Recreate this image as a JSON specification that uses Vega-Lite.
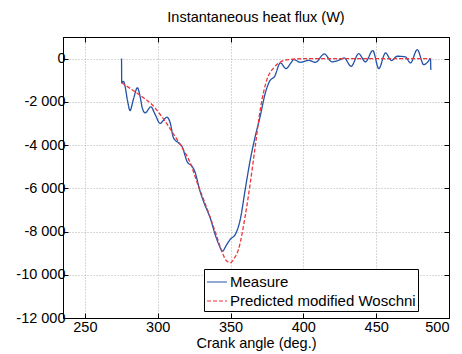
{
  "$schema": "https://vega.github.io/schema/vega-lite/v6.json",
  "width": 386,
  "height": 281,
  "autosize": "none",
  "padding": {"left": 63, "top": 37, "right": 13, "bottom": 36},
  "background": "white",
  "config": {
    "font": "Liberation Sans",
    "view": {"stroke": "black", "strokeWidth": 1},
    "axis": {"labelFont": "Liberation Sans", "titleFont": "Liberation Sans"}
  },
  "title": {"text": "Instantaneous heat flux (W)", "fontSize": 14.5, "fontWeight": "normal", "color": "black", "offset": 11},
  "datasets": {
    "d": [
      {"angle": 275.2, "flux": 0, "series": "Measure"},
      {"angle": 275.3, "flux": -1120, "series": "Measure"},
      {"angle": 276.5, "flux": -1050, "series": "Measure"},
      {"angle": 277.6, "flux": -1280, "series": "Measure"},
      {"angle": 279.3, "flux": -1950, "series": "Measure"},
      {"angle": 281, "flux": -2400, "series": "Measure"},
      {"angle": 283.3, "flux": -1890, "series": "Measure"},
      {"angle": 286.1, "flux": -1350, "series": "Measure"},
      {"angle": 287.9, "flux": -1740, "series": "Measure"},
      {"angle": 289.5, "flux": -2300, "series": "Measure"},
      {"angle": 291.4, "flux": -2510, "series": "Measure"},
      {"angle": 295.3, "flux": -2230, "series": "Measure"},
      {"angle": 298.3, "flux": -2590, "series": "Measure"},
      {"angle": 301.7, "flux": -3000, "series": "Measure"},
      {"angle": 304, "flux": -2850, "series": "Measure"},
      {"angle": 306.3, "flux": -2710, "series": "Measure"},
      {"angle": 308.6, "flux": -2970, "series": "Measure"},
      {"angle": 310.8, "flux": -3660, "series": "Measure"},
      {"angle": 314.3, "flux": -3900, "series": "Measure"},
      {"angle": 316.6, "flux": -4050, "series": "Measure"},
      {"angle": 320.4, "flux": -4790, "series": "Measure"},
      {"angle": 323.5, "flux": -4970, "series": "Measure"},
      {"angle": 325.8, "flux": -5280, "series": "Measure"},
      {"angle": 328.7, "flux": -6050, "series": "Measure"},
      {"angle": 332, "flux": -6700, "series": "Measure"},
      {"angle": 336.1, "flux": -7380, "series": "Measure"},
      {"angle": 339.5, "flux": -8150, "series": "Measure"},
      {"angle": 342, "flux": -8600, "series": "Measure"},
      {"angle": 344.5, "flux": -8900, "series": "Measure"},
      {"angle": 347, "flux": -8650, "series": "Measure"},
      {"angle": 349.8, "flux": -8360, "series": "Measure"},
      {"angle": 353.3, "flux": -8130, "series": "Measure"},
      {"angle": 356.7, "flux": -7440, "series": "Measure"},
      {"angle": 360.1, "flux": -6050, "series": "Measure"},
      {"angle": 363.6, "flux": -4670, "series": "Measure"},
      {"angle": 367, "flux": -3590, "series": "Measure"},
      {"angle": 370.4, "flux": -2660, "series": "Measure"},
      {"angle": 373.9, "flux": -1590, "series": "Measure"},
      {"angle": 376.8, "flux": -1050, "series": "Measure"},
      {"angle": 380.3, "flux": -820, "series": "Measure"},
      {"angle": 384.2, "flux": -200, "series": "Measure"},
      {"angle": 388.1, "flux": -460, "series": "Measure"},
      {"angle": 391.5, "flux": -200, "series": "Measure"},
      {"angle": 393.4, "flux": -46, "series": "Measure"},
      {"angle": 398, "flux": -170, "series": "Measure"},
      {"angle": 403.7, "flux": -80, "series": "Measure"},
      {"angle": 408.3, "flux": -170, "series": "Measure"},
      {"angle": 414.4, "flux": 215, "series": "Measure"},
      {"angle": 419.7, "flux": -150, "series": "Measure"},
      {"angle": 425.4, "flux": -46, "series": "Measure"},
      {"angle": 428, "flux": 30, "series": "Measure"},
      {"angle": 432.8, "flux": -355, "series": "Measure"},
      {"angle": 438, "flux": 230, "series": "Measure"},
      {"angle": 442.6, "flux": -150, "series": "Measure"},
      {"angle": 447.7, "flux": 370, "series": "Measure"},
      {"angle": 451.8, "flux": -460, "series": "Measure"},
      {"angle": 456.4, "flux": 260, "series": "Measure"},
      {"angle": 460.5, "flux": -90, "series": "Measure"},
      {"angle": 464.4, "flux": 110, "series": "Measure"},
      {"angle": 470.1, "flux": 80, "series": "Measure"},
      {"angle": 473.6, "flux": -200, "series": "Measure"},
      {"angle": 478.2, "flux": 415, "series": "Measure"},
      {"angle": 482.7, "flux": -280, "series": "Measure"},
      {"angle": 485.5, "flux": -150, "series": "Measure"},
      {"angle": 487.3, "flux": 0, "series": "Measure"},
      {"angle": 487.5, "flux": -510, "series": "Measure"},
      {"angle": 275.3, "flux": -1120, "series": "Predicted modified Woschni"},
      {"angle": 280, "flux": -1330, "series": "Predicted modified Woschni"},
      {"angle": 285.7, "flux": -1590, "series": "Predicted modified Woschni"},
      {"angle": 291, "flux": -1850, "series": "Predicted modified Woschni"},
      {"angle": 296, "flux": -2120, "series": "Predicted modified Woschni"},
      {"angle": 300.5, "flux": -2480, "series": "Predicted modified Woschni"},
      {"angle": 305.1, "flux": -2900, "series": "Predicted modified Woschni"},
      {"angle": 310, "flux": -3400, "series": "Predicted modified Woschni"},
      {"angle": 315.4, "flux": -3970, "series": "Predicted modified Woschni"},
      {"angle": 322.3, "flux": -4820, "series": "Predicted modified Woschni"},
      {"angle": 328, "flux": -5900, "series": "Predicted modified Woschni"},
      {"angle": 332, "flux": -6600, "series": "Predicted modified Woschni"},
      {"angle": 336.1, "flux": -7350, "series": "Predicted modified Woschni"},
      {"angle": 340.7, "flux": -8250, "series": "Predicted modified Woschni"},
      {"angle": 344.5, "flux": -9000, "series": "Predicted modified Woschni"},
      {"angle": 347.2, "flux": -9350, "series": "Predicted modified Woschni"},
      {"angle": 350, "flux": -9440, "series": "Predicted modified Woschni"},
      {"angle": 352.5, "flux": -9250, "series": "Predicted modified Woschni"},
      {"angle": 355.5, "flux": -8820, "series": "Predicted modified Woschni"},
      {"angle": 360.1, "flux": -7280, "series": "Predicted modified Woschni"},
      {"angle": 363.6, "flux": -5740, "series": "Predicted modified Woschni"},
      {"angle": 367, "flux": -4050, "series": "Predicted modified Woschni"},
      {"angle": 370.4, "flux": -2360, "series": "Predicted modified Woschni"},
      {"angle": 372.7, "flux": -1550, "series": "Predicted modified Woschni"},
      {"angle": 375, "flux": -970, "series": "Predicted modified Woschni"},
      {"angle": 379.6, "flux": -430, "series": "Predicted modified Woschni"},
      {"angle": 385.4, "flux": -120, "series": "Predicted modified Woschni"},
      {"angle": 390, "flux": -46, "series": "Predicted modified Woschni"},
      {"angle": 400, "flux": -5, "series": "Predicted modified Woschni"},
      {"angle": 487.5, "flux": 0, "series": "Predicted modified Woschni"}
    ]
  },
  "data": {"name": "d"},
  "layer": [
    {
      "mark": {"type": "line", "strokeWidth": 1.3, "interpolate": "monotone", "clip": true},
      "encoding": {
        "x": {
          "field": "angle", "type": "quantitative",
          "scale": {"domain": [235, 500], "nice": false, "zero": false},
          "axis": {
            "title": "Crank angle (deg.)", "titleFontSize": 14.5, "titleFontWeight": "normal", "titleColor": "black", "titlePadding": 3,
            "values": [250, 300, 350, 400, 450, 500],
            "labelFontSize": 14.5, "labelColor": "black", "labelPadding": 7,
            "tickSize": -5, "tickColor": "black", "domainColor": "black",
            "grid": true, "gridColor": "#b0b0b0", "gridDash": [1, 2], "gridWidth": 1
          }
        },
        "y": {
          "field": "flux", "type": "quantitative",
          "scale": {"domain": [-12000, 1000], "nice": false, "zero": false},
          "axis": {
            "title": null,
            "values": [0, -2000, -4000, -6000, -8000, -10000, -12000],
            "labelExpr": "datum.value == 0 ? '0' : '-' + replace(format(abs(datum.value), ','), ',', ' ')",
            "labelFontSize": 14.5, "labelColor": "black", "labelPadding": 3,
            "tickSize": -5, "tickColor": "black", "domainColor": "black",
            "grid": true, "gridColor": "#b0b0b0", "gridDash": [1, 2], "gridWidth": 1
          }
        },
        "color": {
          "field": "series", "type": "nominal",
          "scale": {"domain": ["Measure", "Predicted modified Woschni"], "range": ["#2352a6", "#f0333a"]},
          "legend": {
            "title": null, "orient": "none", "legendX": 141, "legendY": 232,
            "direction": "vertical",
            "strokeColor": "black", "fillColor": "white", "padding": 2,
            "labelFontSize": 15, "labelColor": "black", "labelOffset": 2, "labelLimit": 0,
            "symbolType": "stroke", "symbolSize": 400, "symbolStrokeWidth": 1.2, "rowPadding": 0
          }
        },
        "strokeDash": {
          "field": "series", "type": "nominal",
          "scale": {"domain": ["Measure", "Predicted modified Woschni"], "range": [[1, 0], [4, 2]]},
          "legend": {
            "title": null, "orient": "none", "legendX": 141, "legendY": 232,
            "direction": "vertical",
            "strokeColor": "black", "fillColor": "white", "padding": 2,
            "labelFontSize": 15, "labelColor": "black", "labelOffset": 2, "labelLimit": 0,
            "symbolType": "stroke", "symbolSize": 400, "symbolStrokeWidth": 1.2, "rowPadding": 0
          }
        }
      }
    },
    {
      "mark": {"type": "line", "opacity": 0},
      "encoding": {
        "x": {"field": "angle", "type": "quantitative",
          "axis": {"orient": "top", "title": null, "labels": false, "values": [250, 300, 350, 400, 450, 500], "tickSize": -5, "tickColor": "black", "domainColor": "black", "grid": false}},
        "y": {"field": "flux", "type": "quantitative",
          "axis": {"orient": "right", "title": null, "labels": false, "values": [0, -2000, -4000, -6000, -8000, -10000, -12000], "tickSize": -5, "tickColor": "black", "domainColor": "black", "grid": false}}
      }
    }
  ],
  "resolve": {"axis": {"x": "independent", "y": "independent"}}
}
